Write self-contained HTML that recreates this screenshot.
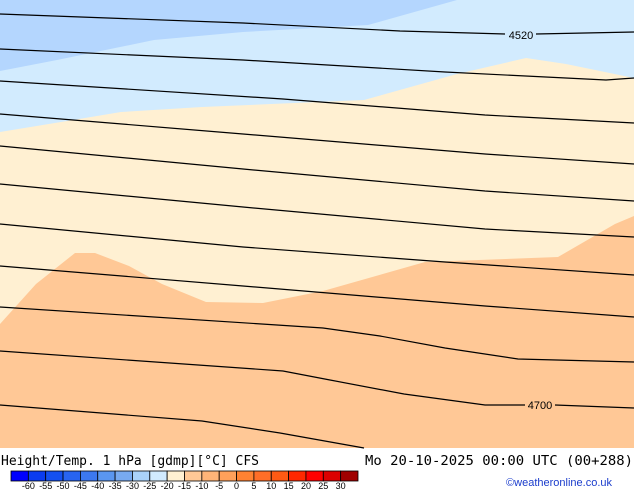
<!DOCTYPE html>
<html><head><meta charset="utf-8"><style>
body{margin:0;width:634px;height:490px;overflow:hidden;background:#fff;font-family:"DejaVu Sans","Liberation Sans",sans-serif}
</style></head><body>
<svg width="634" height="490" viewBox="0 0 634 490" style="position:absolute;left:0;top:0">
<g>
<rect x="0" y="0" width="634" height="448" fill="#ffc896"/>
<polygon fill="#fff0d2" points="0,0 634,0 634,216 615,224 558,257 425,262 323,291 263,303 206,302 162,284 129,266 95,253 75,253 36,284 0,324"/>
<polygon fill="#d2ebfe" points="0,0 634,0 634,78 566,64 526,58 457,74 364,100 202,107 121,112 61,122 0,132"/>
<polygon fill="#b4d6fe" points="0,0 457,0 368,25 243,32 154,40 57,60 0,71"/>
</g>
<g fill="none" stroke="#000" stroke-width="1.2">
<polyline points="0,14 243,23 400,31 505,34"/>
<polyline points="536,34 634,32"/>
<polyline points="0,49 243,60 445,72 606,80 634,78"/>
<polyline points="0,81 283,99 485,115 634,123"/>
<polyline points="0,114 243,134 485,154 634,164"/>
<polyline points="0,146 243,169 485,191 634,201"/>
<polyline points="0,184 243,207 485,229 634,237"/>
<polyline points="0,224 243,247 445,262 634,275"/>
<polyline points="0,266 243,286 485,306 634,317"/>
<polyline points="0,307 323,328 380,336 445,348 518,359 634,362"/>
<polyline points="0,351 283,371 330,380 404,394 485,405 525,405"/>
<polyline points="555,405 634,408"/>
<polyline points="0,405 202,421 280,433 364,448"/>
</g>
<text x="521" y="39" font-size="11" text-anchor="middle" font-family="Liberation Sans, sans-serif">4520</text>
<text x="540" y="409" font-size="11" text-anchor="middle" font-family="Liberation Sans, sans-serif">4700</text>
<text x="1" y="465" font-size="13" textLength="258" lengthAdjust="spacingAndGlyphs" font-family="DejaVu Sans Mono, Liberation Mono, monospace">Height/Temp. 1 hPa [gdmp][°C] CFS</text>
<text x="365" y="465" font-size="13" textLength="268" lengthAdjust="spacingAndGlyphs" font-family="DejaVu Sans Mono, Liberation Mono, monospace">Mo 20-10-2025 00:00 UTC (00+288)</text>
<text x="612" y="486" font-size="11" text-anchor="end" fill="#1a3ccc" font-family="Liberation Sans, sans-serif">©weatheronline.co.uk</text>
<g id="cbar"></g>
</svg>
<script>
const colors=["#0000fe","#0a3cf0","#1450f0","#2864f0","#3c78f0","#5a96f0","#78aaf0","#aad2fa","#d2ebfe","#fff0d2","#ffc896","#ffb478","#ffa05a","#ff8232","#ff6e28","#ff5a14","#ff2800","#ff0000","#dc0000","#a00000"];
const ticks=["-60","-55","-50","-45","-40","-35","-30","-25","-20","-15","-10","-5","0","5","10","15","20","25","30"];
const g=document.getElementById('cbar');
const ns="http://www.w3.org/2000/svg";
const x0=11,w=17.35,y0=471,h=10;
colors.forEach((c,i)=>{
 const r=document.createElementNS(ns,'rect');
 r.setAttribute('x',x0+i*w);r.setAttribute('y',y0);r.setAttribute('width',w);r.setAttribute('height',h);
 r.setAttribute('fill',c);r.setAttribute('stroke','#000');r.setAttribute('stroke-width','0.8');
 
 
 g.appendChild(r);
});
ticks.forEach((t,i)=>{
 const tx=document.createElementNS(ns,'text');
 tx.setAttribute('x',x0+(i+1)*w);tx.setAttribute('y',489);
 tx.setAttribute('font-size','9');tx.setAttribute('text-anchor','middle');
 tx.setAttribute('font-family','Liberation Sans, sans-serif');
 tx.textContent=t;
 
 
 g.appendChild(tx);
});
</script>
</body></html>
